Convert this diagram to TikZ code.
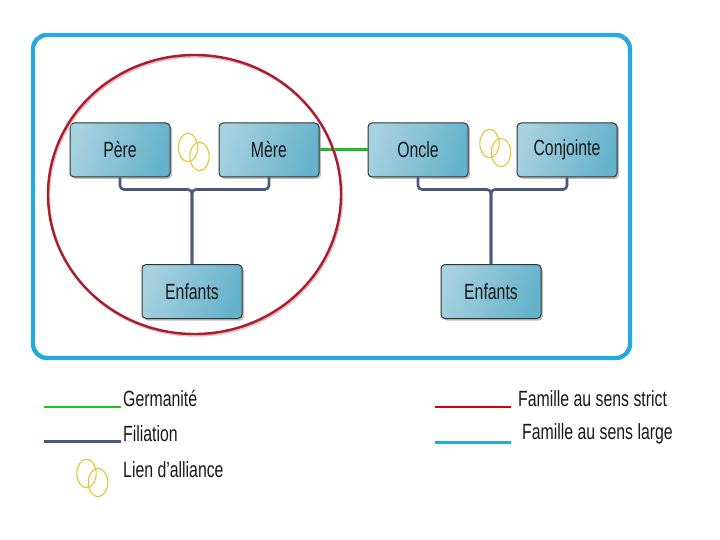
\documentclass[tikz,border=0pt]{standalone}
\usepackage{fontspec}
\setmainfont{Liberation Sans}
\usetikzlibrary{shadows}
\definecolor{cadre}{HTML}{27A9DE}
\definecolor{strict}{HTML}{A91E2C}
\definecolor{germain}{HTML}{22B827}
\definecolor{filia}{HTML}{47597F}
\definecolor{anneau}{HTML}{EBC332}
\definecolor{boiteA}{HTML}{A6D1DF}
\definecolor{boiteB}{HTML}{65B2CB}
\newcommand{\lbl}[1]{\scalebox{.72}[1]{#1}}
\tikzset{
  personne/.style={draw=black!80,line width=1pt,rounded corners=4pt,minimum width=100pt,minimum height=54pt,inner sep=0pt,
    left color=boiteA,right color=boiteB,shading angle=70,
    drop shadow={shadow xshift=2pt,shadow yshift=-2pt,fill=black!50},
    font=\fontsize{22}{24}\selectfont,text=black!90},
  legende/.style={anchor=west,inner sep=0pt,font=\fontsize{22}{24}\selectfont,text=black!90},
  filiation/.style={filia,line width=2.6pt,rounded corners=4pt},
  rings/.pic={
    \draw[anneau,line width=1.1pt] (0,0) ellipse[x radius=9.7,y radius=14.2];
    \draw[anneau,line width=1.1pt] (11.5,9) ellipse[x radius=9.7,y radius=14.2];
  }
}
\begin{document}
\begin{tikzpicture}[x=1pt,y=-1pt]
\useasboundingbox (0,0) rectangle (720,540);
\fill[white] (0,0) rectangle (720,540);

\draw[cadre,line width=4.4pt,rounded corners=14pt,fill=white,drop shadow={shadow xshift=1.5pt,shadow yshift=-1.5pt,fill=black!30}] (33,35) rectangle (630,358);

\node[personne] at (120,150) (pere) {\lbl{Père}};
\node[personne] at (269,150) (mere) {\lbl{Mère}};
\node[personne] at (192,291.5) (enfantsA) {\lbl{Enfants}};
\node[personne] at (418,150) (oncle) {\lbl{Oncle}};
\node[personne] at (567,150) (conjointe) {\lbl{Conjointe}};
\node[personne] at (491,291.5) (enfantsB) {\lbl{Enfants}};

\draw[filiation] (pere.south) -- ++(0,12) -| (enfantsA.north);
\draw[filiation] (mere.south) -- ++(0,12) -| (enfantsA.north);
\draw[filiation] (oncle.south) -- ++(0,12) -| (enfantsB.north);
\draw[filiation] (conjointe.south) -- ++(0,12) -| (enfantsB.north);
\draw[germain,line width=3pt] (mere.east) -- (oncle.west);

\draw[strict!30,line width=2.4pt] (195.5,196) ellipse[x radius=146.5,y radius=139.5];
\draw[strict,line width=2.4pt] (194.5,194.5) ellipse[x radius=146.5,y radius=139.5];

\pic at (188,147.5) {rings};
\pic at (489.5,143.5) {rings};
\pic at (86.5,473.5) {rings};

\node[legende] at (123,399) (germanite) {\lbl{Germanité}};
\node[legende] at (123,434) (filiationtxt) {\lbl{Filiation}};
\node[legende] at (123,470) (alliance) {\lbl{Lien d’alliance}};
\node[legende] at (518,399) (sensstrict) {\lbl{Famille au sens strict}};
\node[legende] at (522,434) (senslarge) {\lbl{Famille au sens large}};

\coordinate (a1) at (44,407);
\coordinate (a2) at (121,407);
\coordinate (b1) at (44,441.5);
\coordinate (b2) at (121,441.5);
\coordinate (c1) at (435,407);
\coordinate (c2) at (511,407);
\coordinate (d1) at (435,442);
\coordinate (d2) at (511,442);
\draw[germain!80!green,line width=1.5pt] (a1) -- (a2);
\draw[filia,line width=2.2pt] (b1) -- (b2);
\draw[red!85!black,line width=1.5pt] (c1) -- (c2);
\draw[cadre,line width=3pt] (d1) -- (d2);
\end{tikzpicture}
\end{document}
